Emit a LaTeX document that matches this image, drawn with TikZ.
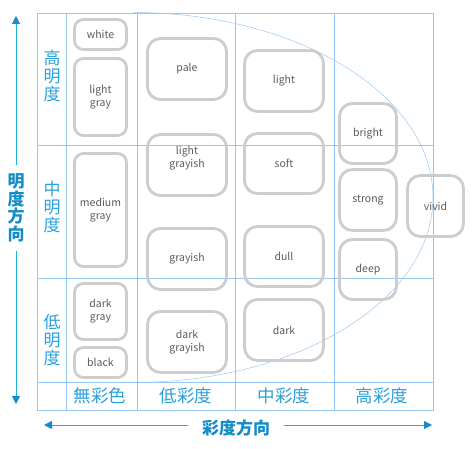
\documentclass[tikz,border=0pt]{standalone}
\usepackage{fontspec}
\setmainfont{Noto Sans CJK JP}
\usetikzlibrary{arrows.meta}
\definecolor{gridblue}{RGB}{150,200,245}
\definecolor{boxgray}{RGB}{205,205,205}
\definecolor{txtgray}{RGB}{90,90,90}
\definecolor{lblblue}{RGB}{40,160,220}
\definecolor{axblue}{RGB}{20,140,200}
\definecolor{axline}{RGB}{30,175,225}
\begin{document}
\begin{tikzpicture}[x=1pt,y=-1pt,
    tone/.style={draw=boxgray,line width=2.8pt,rounded corners=13pt,align=center,
      text=txtgray,inner sep=0pt,font=\fontsize{10.5}{13}\selectfont},
    small/.style={tone,rounded corners=9pt},
    rowlbl/.style={text=lblblue,align=center,font=\fontsize{17}{18}\selectfont},
    collbl/.style={text=lblblue,font=\fontsize{17.5}{18}\selectfont},
    axlbl/.style={text=axblue,align=center,inner sep=2pt,
      font=\fontsize{17}{17.5}\selectfont\bfseries},
    axarrow/.style={draw=axline,line width=1pt,-{Triangle[length=8pt,width=8pt,color=axblue]}}]
      \useasboundingbox (0,0) rectangle (476,449);
      % grid
      \draw[gridblue,line width=0.9pt] (37,13) rectangle (433,410);
      \draw[gridblue,line width=0.8pt] (66,13) -- (66,410);
      \draw[gridblue,line width=0.8pt] (137,13) -- (137,410);
      \draw[gridblue,line width=0.8pt] (235,13) -- (235,410);
      \draw[gridblue,line width=0.8pt] (334,13) -- (334,410);
      \draw[gridblue,line width=0.8pt] (37,145) -- (433,145);
      \draw[gridblue,line width=0.8pt] (37,278) -- (433,278);
      \draw[gridblue,line width=0.8pt] (37,382) -- (433,382);
      \draw[gridblue,line width=0.5pt] (133,12.5) arc[start angle=-90,end angle=90,x radius=300,y radius=185];
      % achromatic
      \node[small,minimum width=52,minimum height=30] (white) at (100.5,34.5) {white};
      \node[small,minimum width=52,minimum height=77] (lgray) at (100.5,97) {light\\gray};
      \node[small,minimum width=52,minimum height=113] (mgray) at (100.5,210) {medium\\gray};
      \node[small,minimum width=52,minimum height=56] (dgray) at (100.5,311.5) {dark\\gray};
      \node[small,minimum width=52,minimum height=30] (black) at (100.5,362.5) {black};
      % low chroma
      \node[tone,minimum width=79,minimum height=61] (pale) at (187,69) {pale};
      \node[tone,minimum width=79,minimum height=61] (ltgrayish) at (187,165) {light\\grayish\\[4pt]};
      \node[tone,minimum width=79,minimum height=61] (grayish) at (187,259) {grayish};
      \node[tone,minimum width=79,minimum height=61] (dkgrayish) at (187,342) {dark\\grayish};
      % mid chroma
      \node[tone,minimum width=79,minimum height=61] (light) at (284,81) {light};
      \node[tone,minimum width=79,minimum height=60] (soft) at (284,163.5) {soft};
      \node[tone,minimum width=79,minimum height=60] (dull) at (284,256.5) {dull};
      \node[tone,minimum width=79,minimum height=61] (dark) at (284,330) {dark};
      % high chroma
      \node[tone,minimum width=57,minimum height=60] (bright) at (368,133.5) {bright};
      \node[tone,minimum width=57,minimum height=61] (strong) at (368,200) {strong};
      \node[tone,minimum width=57,minimum height=60] (deep) at (368,269.5) {deep};
      \node[tone,minimum width=56,minimum height=61] (vivid) at (435.5,206) {vivid};
      % row labels
      \node[rowlbl] (hi) at (52,76) {高\\明\\度};
      \node[rowlbl] (mid) at (52,207.5) {中\\明\\度};
      \node[rowlbl] (lo) at (52,340) {低\\明\\度};
      % column labels
      \node[collbl] (achro) at (100,396) {無彩色};
      \node[collbl] (lowc) at (186,396) {低彩度};
      \node[collbl] (midc) at (284,396) {中彩度};
      \node[collbl] (highc) at (382,396) {高彩度};
      % axes
      \node[axlbl,inner sep=9pt] (vaxis) at (16,208) {明\\度\\方\\向};
      \node[axlbl,inner sep=14pt] (haxis) at (236,428) {彩度方向};
      \coordinate (uptip) at (16,16);
      \coordinate (dntip) at (16,404);
      \coordinate (lftip) at (44,425);
      \coordinate (rttip) at (432,425);
      \draw[axarrow] (vaxis.north) -- (uptip);
      \draw[axarrow] (vaxis.south) -- (dntip);
      \draw[axarrow] (haxis.west |- lftip) -- (lftip);
      \draw[axarrow] (haxis.east |- rttip) -- (rttip);
    \end{tikzpicture}
\end{document}
